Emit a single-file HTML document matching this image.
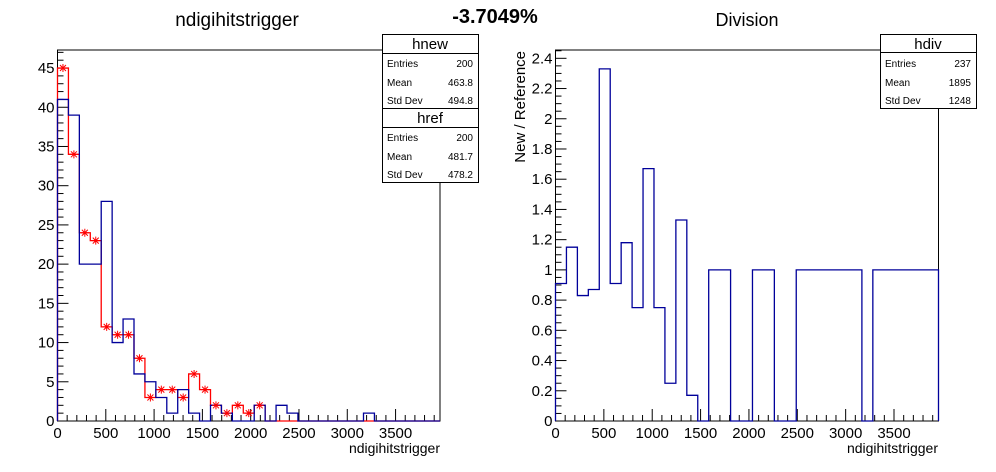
<!DOCTYPE html>
<html><head><meta charset="utf-8"><style>
body{margin:0;background:#fff;}
svg{display:block;font-family:"Liberation Sans",Arial,sans-serif;}
</style></head><body>
<svg id="c" width="996" height="472" viewBox="0 0 996 472">
<rect width="996" height="472" fill="#fff"/>
<text x="237" y="26" font-size="19" text-anchor="middle">ndigihitstrigger</text>
<text x="495" y="23" font-size="20" font-weight="bold" text-anchor="middle">-3.7049%</text>
<text x="747" y="26" font-size="18" text-anchor="middle">Division</text>
<g id="L"></g>
<g id="R"></g>
<text x="440" y="453" font-size="14" text-anchor="end">ndigihitstrigger</text>
<text x="938" y="453" font-size="14" text-anchor="end">ndigihitstrigger</text>
<text transform="translate(525,51) rotate(-90)" font-size="15" text-anchor="end">New / Reference</text>
<g>
<rect x="382.5" y="34.5" width="96" height="148" fill="#fff" stroke="#000"/>
<line x1="382.5" y1="53.5" x2="478.5" y2="53.5" stroke="#000"/>
<line x1="382.5" y1="108.5" x2="478.5" y2="108.5" stroke="#000"/>
<line x1="382.5" y1="127.5" x2="478.5" y2="127.5" stroke="#000"/>
<text x="430" y="49" font-size="15" text-anchor="middle">hnew</text>
<text x="387" y="67" font-size="10">Entries</text><text x="473" y="67" font-size="10" text-anchor="end">200</text>
<text x="387" y="86" font-size="10">Mean</text><text x="473" y="86" font-size="10" text-anchor="end">463.8</text>
<text x="387" y="104" font-size="10">Std Dev</text><text x="473" y="104" font-size="10" text-anchor="end">494.8</text>
<text x="430" y="123" font-size="15" text-anchor="middle">href</text>
<text x="387" y="141" font-size="10">Entries</text><text x="473" y="141" font-size="10" text-anchor="end">200</text>
<text x="387" y="160" font-size="10">Mean</text><text x="473" y="160" font-size="10" text-anchor="end">481.7</text>
<text x="387" y="178" font-size="10">Std Dev</text><text x="473" y="178" font-size="10" text-anchor="end">478.2</text>
</g>
<g>
<rect x="880.5" y="34.5" width="96" height="74" fill="#fff" stroke="#000"/>
<line x1="880.5" y1="52.5" x2="976.5" y2="52.5" stroke="#000"/>
<text x="928" y="49" font-size="15" text-anchor="middle">hdiv</text>
<text x="885" y="67" font-size="10">Entries</text><text x="971" y="67" font-size="10" text-anchor="end">237</text>
<text x="885" y="86" font-size="10">Mean</text><text x="971" y="86" font-size="10" text-anchor="end">1895</text>
<text x="885" y="104" font-size="10">Std Dev</text><text x="971" y="104" font-size="10" text-anchor="end">1248</text>
</g>
</svg>
<script>
const binCount = 35;
const xMax = 3960;
const hnewValues = [45,34,24,23,12,11,11,8,3,4,4,3,6,4,2,1,2,1,2,0,0,0,0,0,0,0,0,0,0,0,0,0,0,0,0];
const hrefValues = [41,39,20,20,28,10,13,6,5,3,1,4,1,0,2,1,0,0,2,0,2,1,0,0,0,0,0,0,1,0,0,0,0,0,0];
const ratioValues = [0.91,1.15,0.83,0.87,2.33,0.91,1.18,0.75,1.67,0.75,0.25,1.33,0.17,0,1,1,0,0,1,1,0,0,1,1,1,1,1,1,0,1,1,1,1,1,1];
const xTickLabels = [0,500,1000,1500,2000,2500,3000,3500];
const leftYTickLabels = [0,5,10,15,20,25,30,35,40,45];
const rightYTickLabels = ["0","0.2","0.4","0.6","0.8","1","1.2","1.4","1.6","1.8","2","2.2","2.4"];
const NS="http://www.w3.org/2000/svg";
function mk(p,t,a){const e=document.createElementNS(NS,t);for(const k in a)e.setAttribute(k,a[k]);p.appendChild(e);return e;}
function plot(g,x0,x1,y0,y1,yMax,yMajor,yMinor,yLabels){
  const sx=v=>x0+(v/xMax)*(x1-x0);
  const sy=v=>y0-(v/yMax)*(y0-y1);
  const fr=mk(g,'rect',{x:x0,y:y1,width:x1-x0,height:y0-y1,fill:'none',stroke:'#000','stroke-width':1});
  
  
  for(let v=0;v<=xMax;v+=100){const X=sx(v);const maj=v%500===0;
    mk(g,'line',{x1:X,y1:y0,x2:X,y2:y0-(maj?12:6),stroke:'#000'});}
  xTickLabels.forEach(v=>{const t=mk(g,'text',{x:sx(v),y:y0+17,'font-size':15,'text-anchor':'middle'});t.textContent=v;
    
    });
  for(let v=0;v<=yMax+1e-9;v+=yMinor){const Y=sy(v);const maj=Math.abs(v/yMajor-Math.round(v/yMajor))<1e-6;
    mk(g,'line',{x1:x0,y1:Y,x2:x0+(maj?11:6),y2:Y,stroke:'#000'});}
  yLabels.forEach((s,i)=>{const t=mk(g,'text',{x:x0-3,y:sy(i*yMajor)+5,'font-size':15,'text-anchor':'end'});t.textContent=s;
    
    });
  return {sx,sy};
}
function stepPath(vals,sx,sy){
  const w=xMax/binCount;let d='M'+sx(0)+','+sy(0);
  vals.forEach((v,i)=>{d+=' L'+sx(i*w)+','+sy(v)+' L'+sx((i+1)*w)+','+sy(v);});
  d+=' L'+sx(xMax)+','+sy(0);return d;
}
const L=document.getElementById('L');
const a=plot(L,57.5,440,421,50,47.3,5,1,leftYTickLabels);
const pr=mk(L,'path',{d:stepPath(hnewValues,a.sx,a.sy),fill:'none',stroke:'#f00','stroke-width':1.3});


const pb=mk(L,'path',{d:stepPath(hrefValues,a.sx,a.sy),fill:'none',stroke:'#00009a','stroke-width':1.3});


const w=xMax/binCount;
hnewValues.forEach((v,i)=>{if(v<=0)return;const X=a.sx((i+0.5)*w),Y=a.sy(v);
  const m=mk(L,'path',{d:`M${X-4},${Y}L${X+4},${Y}M${X},${Y-4}L${X},${Y+4}M${X-3},${Y-3}L${X+3},${Y+3}M${X-3},${Y+3}L${X+3},${Y-3}`,stroke:'#f00','stroke-width':1});
  
  });
const R=document.getElementById('R');
const b=plot(R,555.5,938.5,421,50,2.455,0.2,0.05,rightYTickLabels);
const pd=mk(R,'path',{d:stepPath(ratioValues,b.sx,b.sy),fill:'none',stroke:'#00009a','stroke-width':1.3});


</script>
</body></html>
